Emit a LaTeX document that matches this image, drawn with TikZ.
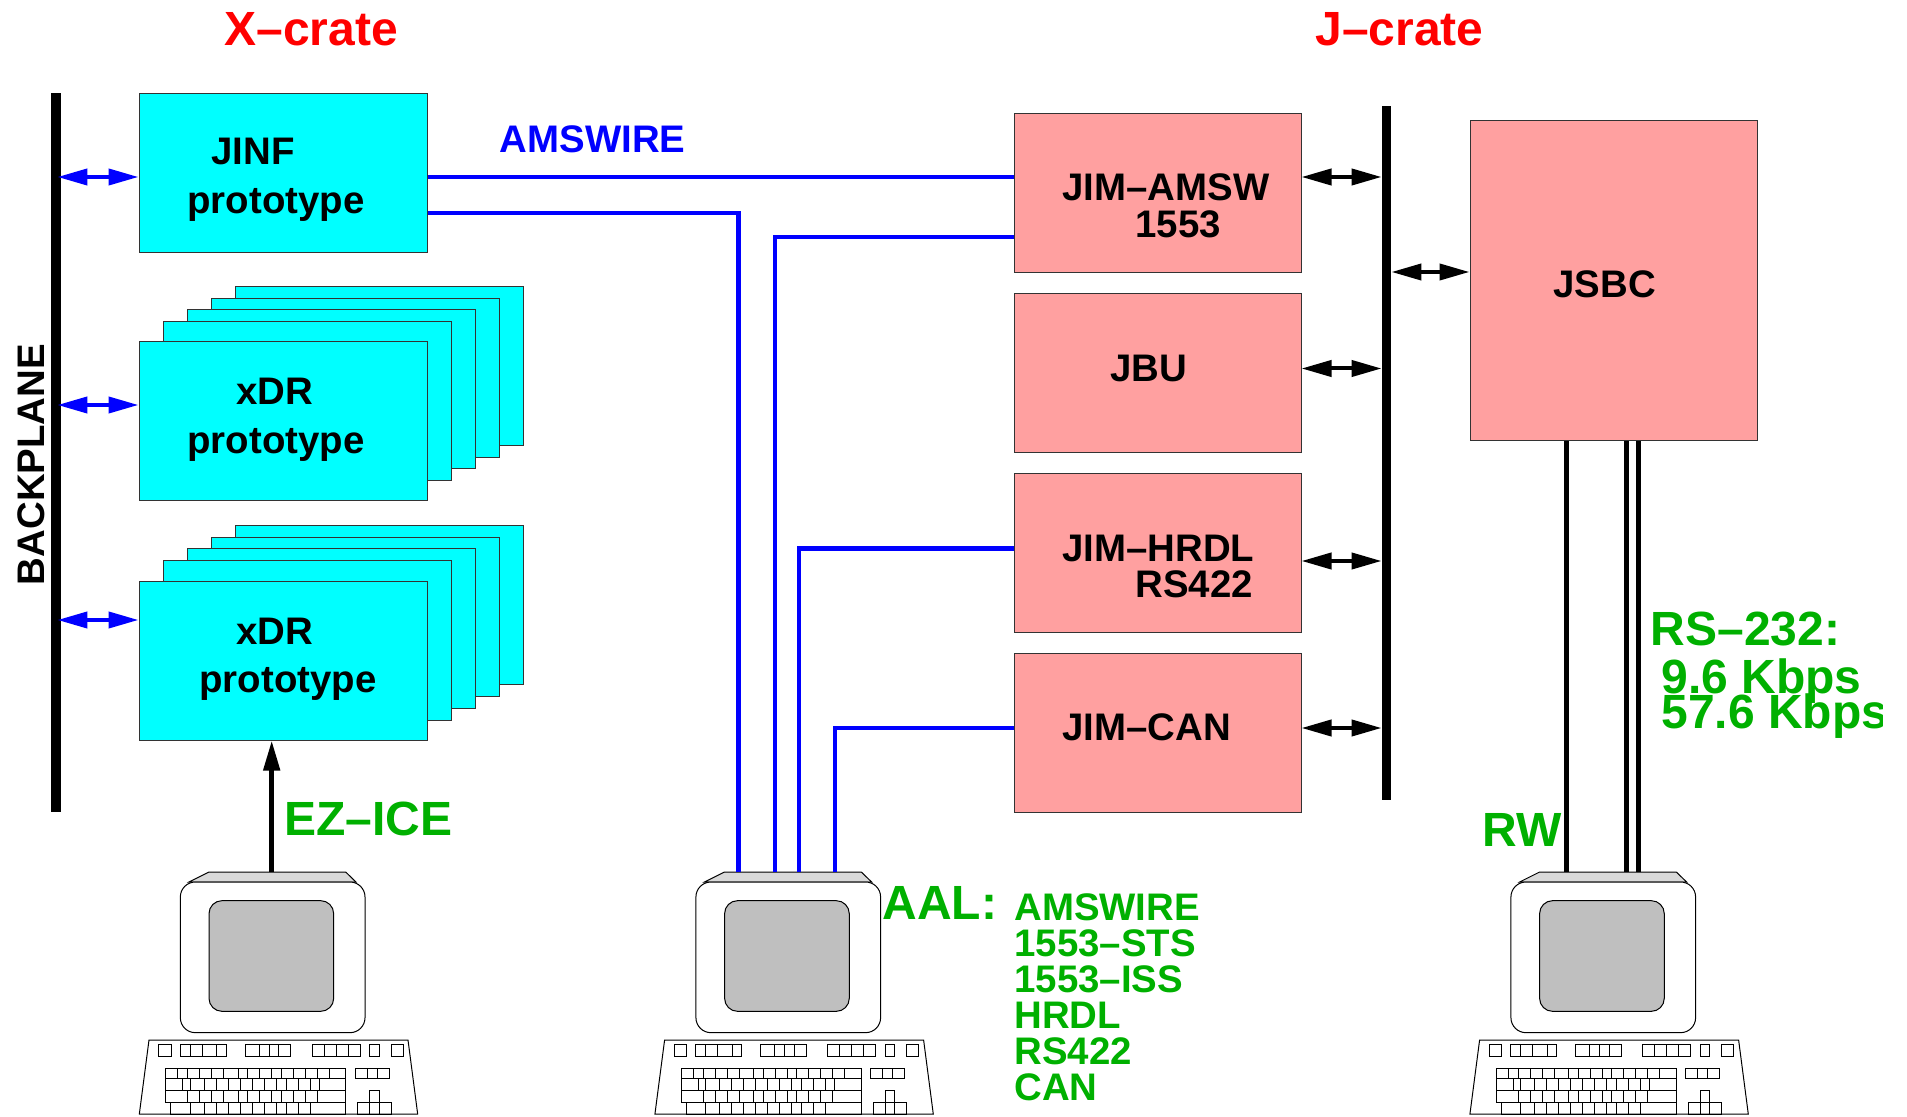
\documentclass[tikz,border=0pt]{standalone}
\usepackage{fontspec}
\setmainfont{Liberation Sans}
\usetikzlibrary{arrows.meta}
\definecolor{cratecyan}{RGB}{0,255,255}
\definecolor{cratepink}{RGB}{255,160,160}
\definecolor{labgreen}{RGB}{0,176,0}
\newcommand{\keyrow}[5]{%
  \draw (#3,#1) rectangle (#4,#2);
  \foreach \k in {#5} \draw (\k,#1) -- (\k,#2);
}
\tikzset{
  cratebox/.style={draw=black!80, line width=0.5pt, fill=cratecyan, minimum width=144pt, minimum height=79.5pt, inner sep=0pt},
  jimbox/.style={cratebox, fill=cratepink, minimum width=143.5pt},
  bus/.style={fill=black, inner sep=0pt},
  lab/.style={anchor=base west, inner sep=0pt, font=\bfseries\fontsize{19.2}{19.2}\selectfont},
  biglab/.style={lab, font=\bfseries\fontsize{24}{24}\selectfont},
  wire/.style={blue, line width=2.3pt},
  rsline/.style={black, line width=2.5pt},
  computer/.pic={
    \begin{scope}[x=0.16667pt, y=-0.16667pt, line width=0.5pt]
    \draw[fill=black!15] (207,66) -- (267,36) -- (677,36) -- (708,66) -- cycle;
    \draw[fill=white, rounded corners=7.5pt] (181,66) rectangle (735,518);
    \draw[fill=black!25, rounded corners=6.5pt] (267,122) rectangle (641,454);
    \draw (87,540) -- (864,540) -- (893,762) -- (58,762) -- cycle;
    % function keys
    \keyrow{553}{590}{116}{153}{116}
    \keyrow{553}{590}{181}{318}{210,246,290}
    \keyrow{553}{590}{375}{512}{418,447,476}
    \keyrow{553}{590}{577}{720}{612,648,684}
    \keyrow{553}{590}{749}{778}{749}
    \keyrow{553}{590}{814}{850}{814}
    % main block
    \keyrow{626}{655}{137}{677}{173,203,239,275,311,354,383,419,455,484,520,556,592,628}
    \keyrow{655}{690}{137}{677}{188,210,253,289,325,361,397,433,469,498,534,570,598}
    \keyrow{690}{727}{137}{677}{203,239,275,311,354,383,419,455,484,520,556,592}
    \keyrow{727}{762}{152}{677}{210,253,289,325,361,397,433,469,498,534,570}
    % right block
    \keyrow{626}{655}{706}{807}{742,771}
    \keyrow{691}{727}{749}{778}{749}
    \keyrow{727}{762}{713}{814}{749,778}
    \end{scope}
  }
}
\begin{document}
\begin{tikzpicture}[x=0.5pt, y=-0.5pt, >={Triangle[length=15pt,width=8pt]}]
\useasboundingbox (0,0) rectangle (1907,1117);
% levels of the connectors
\coordinate (lvA) at (0,177);
\coordinate (lvB) at (0,213);
\coordinate (lvC) at (0,237);
\coordinate (lvD) at (0,405);
\coordinate (lvE) at (0,620);
\coordinate (lvF) at (0,368.5);
\coordinate (lvG) at (0,561);
\coordinate (lvH) at (0,728);
\coordinate (lvJ) at (0,548.5);
\coordinate (lvK) at (0,272);
\coordinate (aalA) at (738.5,872);
\coordinate (aalB) at (775,872);
\coordinate (aalC) at (799,872);
\coordinate (aalD) at (835,872);
\coordinate (iceTop) at (271.7,872);
\coordinate (rwA) at (1566,872);
\coordinate (rsA) at (1626,872);
\coordinate (rsB) at (1638,872);
% X-crate
\node[bus, minimum width=5pt, minimum height=359.5pt] (bp) at (56,452.5) {};
\node[cratebox] (jinf) at (283,173.5) {};
\foreach \cy/\nm in {421.5/xdrA,660.5/xdrB} {
  \foreach \dx/\dy in {96/-55.5,72/-43.5,48.5/-32,24/-20}
    \node[cratebox] (\nm\dx) at (283+\dx,\cy+\dy) {};
  \node[cratebox] (\nm) at (283,\cy) {};
}
% J-crate
\node[jimbox] (jimamsw) at (1157.5,193.5) {};
\node[jimbox] (jbu) at (1157.5,373) {};
\node[jimbox] (jimhrdl) at (1157.5,553) {};
\node[jimbox] (jimcan) at (1157.5,732.5) {};
\node[jimbox, minimum height=160pt] (jsbc) at (1613.5,281) {};
\node[bus, minimum width=4.5pt, minimum height=347pt] (jbus) at (1386.5,453) {};
% computers
\pic at (120,860) {computer};
\pic at (635.6,860) {computer};
\pic at (1450.6,860) {computer};
% connectors
\draw[<->, blue, line width=2pt, shorten <=-2pt] (bp.east |- lvA) -- (jinf.west |- lvA);
\draw[<->, blue, line width=2pt, shorten <=-2pt] (bp.east |- lvD) -- (xdrA.west |- lvD);
\draw[<->, blue, line width=2pt, shorten <=-2pt] (bp.east |- lvE) -- (xdrB.west |- lvE);
\draw[wire] (jinf.east |- lvA) -- (jimamsw.west |- lvA);
\draw[wire] (jinf.east |- lvB) -| (aalA);
\draw[wire] (jimamsw.west |- lvC) -| (aalB);
\draw[wire] (jimhrdl.west |- lvJ) -| (aalC);
\draw[wire] (jimcan.west |- lvH) -| (aalD);
\draw[<->, line width=2pt] (jimamsw.east |- lvA) -- (jbus.west |- lvA);
\draw[<->, line width=2pt] (jbu.east |- lvF) -- (jbus.west |- lvF);
\draw[<->, line width=2pt] (jimhrdl.east |- lvG) -- (jbus.west |- lvG);
\draw[<->, line width=2pt] (jimcan.east |- lvH) -- (jbus.west |- lvH);
\draw[<->, line width=2pt] (jbus.east |- lvK) -- (jsbc.west |- lvK);
\draw[->, line width=2.4pt] (iceTop) -- (xdrB.south -| iceTop);
\draw[rsline] (jsbc.south -| rwA) -- (rwA);
\draw[rsline] (jsbc.south -| rsA) -- (rsA);
\draw[rsline] (jsbc.south -| rsB) -- (rsB);
% labels
\node[biglab, red] (xtitle) at (224,46) {X–crate};
\node[biglab, red] (jtitle) at (1315,46) {J–crate};
\node[lab, rotate=90] (bplabel) at (44,585.5) {BACKPLANE};
\node[lab, blue] (amswire) at (499.5,153) {AMSWIRE};
\node[lab] (jinfA) at (211,165) {JINF};
\node[lab] (jinfB) at (187,213.5) {prototype};
\node[lab] (xdrAa) at (236,405) {xDR};
\node[lab] (xdrAb) at (187,453.5) {prototype};
\node[lab] (xdrBa) at (236,644) {xDR};
\node[lab] (xdrBb) at (199,692.5) {prototype};
\node[lab] (jimamswA) at (1062,201) {JIM–AMSW};
\node[lab] (jimamswB) at (1135,238) {1553};
\node[lab] (jbuA) at (1110,382) {JBU};
\node[lab] (jimhrdlA) at (1062,561) {JIM–HRDL};
\node[lab] (jimhrdlB) at (1135,597) {RS422};
\node[lab] (jimcanA) at (1062,740) {JIM–CAN};
\node[lab] (jsbcA) at (1553,298) {JSBC};
\node[biglab, labgreen] (ezice) at (284,835) {EZ–ICE};
\node[biglab, labgreen] (aal) at (882,919) {AAL:};
\node[biglab, labgreen] (rw) at (1482.5,846) {RW};
\node[biglab, labgreen] (rsTxtA) at (1650.5,645) {RS–232:};
\node[biglab, labgreen] (rsTxtB) at (1661,693) {9.6 Kbps};
\begin{scope}
\clip (0,0) rectangle (1882,1117);
\node[biglab, labgreen] (rsTxtC) at (1661,728) {57.6 Kbps};
\end{scope}
\node[lab, labgreen] (aalTxtA) at (1014,920) {AMSWIRE};
\node[lab, labgreen] (aalTxtB) at (1014,956) {1553–STS};
\node[lab, labgreen] (aalTxtC) at (1014,992) {1553–ISS};
\node[lab, labgreen] (aalTxtD) at (1014,1028) {HRDL};
\node[lab, labgreen] (aalTxtE) at (1014,1064) {RS422};
\node[lab, labgreen] (aalTxtF) at (1014,1100) {CAN};
\end{tikzpicture}
\end{document}
